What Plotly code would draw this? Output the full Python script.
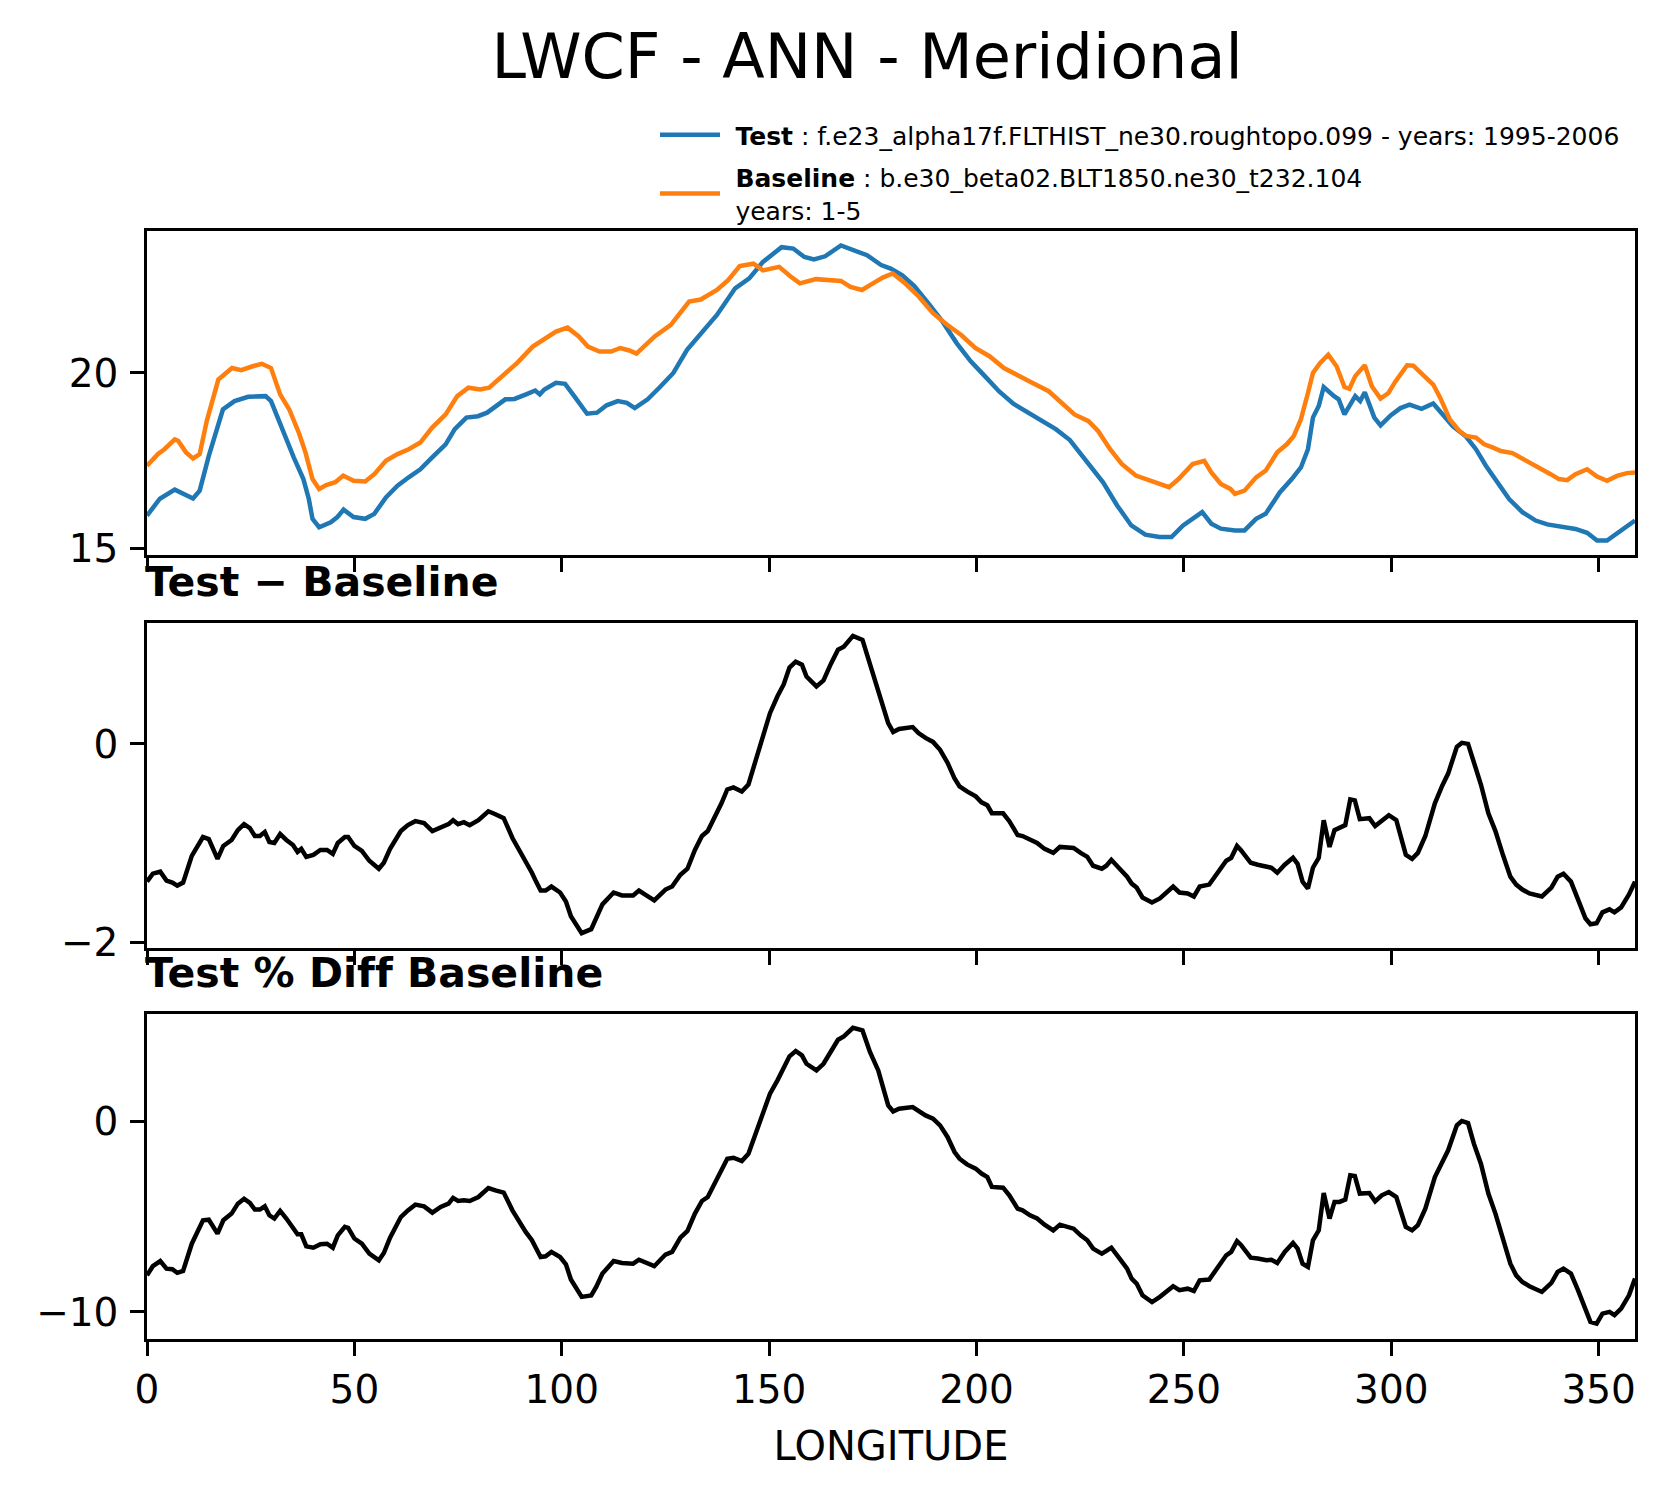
import plotly.graph_objects as go
from plotly.subplots import make_subplots

# Test and Baseline (top panel)
test_lon = [0, 3.1, 6.7, 10.0, 11.1, 12.7, 14.9, 18.3, 21.1, 24.4, 28.6, 29.9, 31.6, 33.2, 35.4, 37.7, 39.0, 39.9,
            41.5, 44.3, 45.9, 47.4, 49.8, 52.6, 54.8, 57.6, 60.4, 63.1, 65.9, 68.7, 72.0, 74.2, 77.0, 79.8, 82.0,
            86.4, 88.6, 91.4, 93.6, 94.7, 95.8, 98.6, 100.8, 103.0, 106.1, 108.5, 110.8, 113.5, 115.7, 117.6, 120.7,
            123.5, 126.9, 130.2, 133.0, 137.4, 141.8, 145.2, 148.5, 153.0, 155.8, 158.5, 160.8, 163.5, 167.3, 170.7,
            173.6, 177.0, 179.3, 182.1, 185.0, 188.4, 191.8, 195.2, 198.6, 202.0, 205.4, 208.8, 212.3, 215.7, 219.1,
            222.5, 224.8, 227.6, 230.5, 233.9, 237.3, 240.7, 244.1, 247.0, 249.8, 254.4, 256.6, 258.9, 262.3, 264.6,
            267.4, 269.7, 273.1, 276.0, 278.2, 279.9, 281.1, 282.5, 283.7, 286.2, 287.3, 288.7, 290.2, 291.3, 292.5,
            293.6, 295.9, 297.4, 299.9, 302.2, 304.4, 307.3, 310.1, 312.0, 314.8, 318.0, 320.4, 322.8, 325.2, 328.4,
            331.6, 334.8, 337.6, 340.8, 344.4, 347.2, 349.6, 352.0, 354.8, 358.0, 358.75]
test_val = [15.94, 16.42, 16.68, 16.48, 16.43, 16.65, 17.64, 18.96, 19.2, 19.32, 19.34, 19.2, 18.68, 18.21, 17.59,
            16.98, 16.42, 15.85, 15.61, 15.75, 15.9, 16.11, 15.9, 15.85, 15.99, 16.46, 16.79, 17.03, 17.26, 17.59,
            17.97, 18.4, 18.73, 18.77, 18.87, 19.25, 19.26, 19.39, 19.5, 19.39, 19.53, 19.72, 19.69, 19.34, 18.84,
            18.87, 19.08, 19.2, 19.15, 19.0, 19.25, 19.58, 20.0, 20.66, 21.04, 21.65, 22.41, 22.69, 23.16, 23.58,
            23.54, 23.3, 23.23, 23.32, 23.63, 23.49, 23.35, 23.07, 22.97, 22.78, 22.47, 21.98, 21.46, 20.85, 20.33,
            19.91, 19.48, 19.13, 18.87, 18.65, 18.4, 18.09, 17.74, 17.36, 16.89, 16.23, 15.66, 15.4, 15.33, 15.33,
            15.66, 16.04, 15.71, 15.57, 15.52, 15.52, 15.85, 15.99, 16.6, 16.98, 17.31, 17.83, 18.73, 19.06, 19.6,
            19.34, 19.25, 18.82, 19.1, 19.34, 19.2, 19.45, 18.73, 18.51, 18.8, 19.0, 19.1, 18.98, 19.13, 18.87, 18.49,
            18.19, 17.83, 17.36, 16.93, 16.41, 16.04, 15.8, 15.69, 15.63, 15.56, 15.45, 15.23, 15.23, 15.47, 15.73,
            15.8]

base_lon = [0, 2.6, 4.2, 6.7, 7.5, 9.4, 11.1, 12.7, 14.4, 17.2, 20.5, 22.7, 25.5, 27.7, 29.9, 32.1, 34.3, 36.6,
            38.2, 39.9, 41.5, 43.2, 45.4, 47.3, 49.8, 52.6, 54.8, 57.6, 60.4, 63.1, 65.9, 68.7, 72.0, 74.8, 77.5,
            80.3, 82.5, 86.4, 89.2, 93.0, 96.4, 98.6, 101.4, 104.1, 106.3, 109.1, 111.9, 114.1, 116.3, 118.0, 122.4,
            126.3, 130.7, 133.5, 137.4, 140.1, 142.9, 146.2, 148.5, 152.4, 155.1, 157.4, 161.3, 164.5, 167.3, 169.6,
            172.4, 174.7, 177.5, 179.8, 182.6, 186.1, 189.5, 192.9, 196.3, 199.7, 203.2, 206.6, 210.0, 213.4, 217.4,
            220.2, 223.6, 227.0, 229.3, 232.2, 235.0, 238.4, 241.8, 246.4, 248.7, 252.1, 254.9, 256.6, 258.9, 261.2,
            262.3, 264.6, 267.4, 269.7, 272.5, 274.8, 276.5, 278.2, 279.9, 281.1, 282.8, 284.8, 286.8, 288.7, 289.9,
            291.3, 293.6, 295.3, 297.4, 299.3, 301.0, 303.8, 305.3, 307.8, 310.1, 311.8, 314.1, 316.4, 318.0, 320.4,
            322.4, 324.4, 326.4, 329.2, 331.6, 334.0, 336.4, 338.4, 340.4, 342.4, 344.4, 347.2, 349.6, 352.0, 354.4,
            356.8, 358.75]
base_val = [17.36, 17.69, 17.83, 18.11, 18.07, 17.74, 17.57, 17.69, 18.63, 19.81, 20.14, 20.08, 20.19, 20.26, 20.14,
            19.39, 18.96, 18.3, 17.74, 16.98, 16.7, 16.81, 16.89, 17.08, 16.93, 16.91, 17.12, 17.5, 17.69, 17.83,
            18.02, 18.44, 18.82, 19.34, 19.58, 19.53, 19.58, 20.0, 20.28, 20.75, 20.99, 21.18, 21.29, 21.04, 20.75,
            20.61, 20.61, 20.71, 20.64, 20.55, 21.04, 21.37, 22.03, 22.09, 22.36, 22.64, 23.04, 23.11, 22.92, 23.02,
            22.75, 22.55, 22.67, 22.64, 22.62, 22.45, 22.36, 22.53, 22.72, 22.83, 22.57, 22.17, 21.7, 21.37, 21.08,
            20.71, 20.47, 20.14, 19.92, 19.72, 19.48, 19.2, 18.82, 18.63, 18.35, 17.83, 17.41, 17.08, 16.93, 16.75,
            16.98, 17.41, 17.5, 17.17, 16.84, 16.7, 16.56, 16.65, 17.03, 17.22, 17.74, 17.97, 18.21, 18.68, 19.43,
            20.0, 20.28, 20.52, 20.19, 19.6, 19.55, 19.91, 20.22, 19.62, 19.27, 19.43, 19.76, 20.22, 20.21, 19.91,
            19.67, 19.29, 18.68, 18.35, 18.21, 18.16, 17.97, 17.88, 17.78, 17.72, 17.57, 17.4, 17.28, 17.12, 16.98,
            16.95, 17.12, 17.26, 17.05, 16.93, 17.07, 17.15, 17.17]

# Test - Baseline and percent difference (same longitudes)
diff_lon = [0, 1.4, 3.2, 4.7, 6.1, 7.3, 8.7, 10.8, 13.5, 14.9, 17.0, 18.4, 20.4, 21.9, 23.4, 24.8, 26.0, 27.2, 28.4,
            29.5, 30.7, 32.1, 33.6, 35.2, 36.3, 37.2, 38.4, 40.1, 41.8, 43.4, 44.8, 46.0, 47.7, 48.5, 50.0, 51.8,
            53.6, 55.9, 57.1, 58.6, 61.2, 62.9, 64.7, 66.8, 68.8, 70.8, 72.7, 73.8, 75.0, 76.4, 77.8, 79.9, 82.3,
            84.0, 86.0, 88.1, 89.7, 91.3, 92.8, 93.8, 94.9, 96.1, 97.5, 99.6, 101.0, 102.2, 104.8, 107.1, 108.3,
            109.8, 112.5, 114.5, 117.2, 118.6, 120.4, 122.3, 125.0, 126.6, 128.6, 130.3, 132.1, 133.8, 135.2, 137.4,
            138.5, 139.9, 141.4, 143.4, 145.0, 147.3, 149.1, 150.2, 152.0, 153.5, 154.9, 156.4, 157.9, 159.0, 161.4,
            163.1, 164.9, 166.6, 168.0, 170.2, 172.5, 174.3, 176.3, 177.8, 178.7, 179.9, 181.3, 184.6, 186.0, 187.7,
            189.5, 191.2, 193.0, 194.7, 195.9, 197.7, 199.8, 201.2, 202.6, 203.7, 206.4, 207.9, 209.9, 211.1, 212.9,
            214.6, 216.4, 218.5, 220.1, 221.6, 223.4, 225.1, 226.7, 228.1, 230.2, 231.3, 232.5, 234.5, 236.3, 237.4,
            238.6, 240.0, 242.3, 244.2, 245.8, 247.4, 248.9, 250.9, 252.4, 253.8, 256.1, 257.9, 260.2, 261.4, 262.8,
            263.7, 266.1, 267.8, 269.9, 271.1, 272.5, 274.3, 276.3, 277.4, 278.6, 279.9, 281.1, 282.5, 283.7, 285.1,
            286.3, 287.5, 288.9, 290.1, 291.2, 292.4, 294.7, 296.1, 297.7, 299.4, 301.2, 303.5, 305.0, 306.4, 308.2,
            310.5, 312.3, 313.7, 315.8, 317.0, 318.5, 319.9, 321.6, 323.4, 325.1, 326.9, 328.7, 330.1, 331.6, 333.3,
            336.3, 338.6, 340.1, 341.5, 343.3, 345.0, 346.8, 348.0, 349.5, 350.9, 352.6, 353.8, 355.4, 357.3, 358.75]
diff_val = [-1.39, -1.31, -1.29, -1.38, -1.40, -1.43, -1.40, -1.13, -0.94, -0.96,
            -1.16, -1.03, -0.97, -0.87, -0.81, -0.85, -0.93, -0.93, -0.89, -0.99,
            -1.0, -0.91, -0.97, -1.02, -1.09, -1.06, -1.14, -1.12, -1.07, -1.07,
            -1.11, -1.0, -0.94, -0.94, -1.03, -1.08, -1.18, -1.26, -1.2, -1.06,
            -0.88, -0.82, -0.78, -0.80, -0.88, -0.84, -0.81, -0.77, -0.81, -0.79,
            -0.82, -0.77, -0.68, -0.71, -0.75, -0.95, -1.07, -1.17, -1.30, -1.39,
            -1.48, -1.48, -1.44, -1.50, -1.59, -1.74, -1.91, -1.87, -1.77, -1.62,
            -1.50, -1.53, -1.53, -1.48, -1.53, -1.58, -1.47, -1.44, -1.32, -1.26,
            -1.07, -0.93, -0.88, -0.70, -0.60, -0.46, -0.44, -0.48, -0.41, -0.09,
            0.16, 0.31, 0.48, 0.60, 0.77, 0.83, 0.80, 0.68, 0.58, 0.64,
            0.81, 0.95, 0.98, 1.09, 1.05, 0.81, 0.56, 0.33, 0.21, 0.12,
            0.15, 0.17, 0.11, 0.06, 0.02, -0.06, -0.19, -0.35, -0.43, -0.48,
            -0.53, -0.59, -0.62, -0.70, -0.70, -0.78, -0.92, -0.93, -0.97, -1.0,
            -1.06, -1.10, -1.04, -1.04, -1.05, -1.10, -1.14, -1.23, -1.26, -1.23,
            -1.17, -1.26, -1.34, -1.41, -1.45, -1.55, -1.60, -1.56, -1.50, -1.44,
            -1.50, -1.51, -1.54, -1.44, -1.42, -1.32, -1.18, -1.15, -1.03, -1.07,
            -1.20, -1.22, -1.24, -1.25, -1.30, -1.22, -1.15, -1.21, -1.39, -1.46,
            -1.25, -1.15, -0.77, -1.04, -0.87, -0.85, -0.82, -0.56, -0.57, -0.76,
            -0.75, -0.83, -0.78, -0.72, -0.77, -1.12, -1.16, -1.10, -0.93, -0.60,
            -0.42, -0.30, -0.03, 0.01, 0.0, -0.19, -0.41, -0.70, -0.88, -1.12,
            -1.34, -1.42, -1.47, -1.51, -1.54, -1.45, -1.34, -1.31, -1.39, -1.57,
            -1.76, -1.82, -1.81, -1.70, -1.67, -1.70, -1.65, -1.52, -1.39]
pct_val = [-8.08, -7.6, -7.33, -7.73, -7.76, -7.95, -7.85, -6.42, -5.19, -5.16,
           -5.89, -5.19, -4.84, -4.32, -4.06, -4.28, -4.63, -4.63, -4.46, -4.93,
           -5.1, -4.7, -5.1, -5.54, -5.93, -5.93, -6.56, -6.63, -6.45, -6.42,
           -6.63, -5.98, -5.54, -5.59, -6.15, -6.42, -6.94, -7.29, -6.91, -6.1,
           -5.02, -4.67, -4.37, -4.46, -4.79, -4.49, -4.32, -4.02, -4.18, -4.14,
           -4.18, -3.97, -3.5, -3.62, -3.74, -4.67, -5.28, -5.8, -6.24, -6.68,
           -7.12, -7.08, -6.85, -7.12, -7.5, -8.3, -9.21, -9.13, -8.69, -7.99,
           -7.33, -7.43, -7.47, -7.26, -7.43, -7.6, -6.99, -6.85, -6.1, -5.75,
           -4.84, -4.18, -3.97, -3.01, -2.57, -1.96, -1.91, -2.08, -1.7, -0.38,
           0.75, 1.45, 2.15, 2.76, 3.41, 3.69, 3.46, 3.02, 2.67, 3.02,
           3.72, 4.28, 4.46, 4.91, 4.77, 3.64, 2.67, 1.5, 0.84, 0.52,
           0.66, 0.75, 0.52, 0.31, 0.14, -0.21, -0.82, -1.61, -1.96, -2.26,
           -2.48, -2.74, -2.92, -3.44, -3.48, -3.88, -4.58, -4.67, -4.93, -5.1,
           -5.42, -5.72, -5.42, -5.49, -5.63, -5.98, -6.24, -6.68, -6.94, -6.8,
           -6.63, -7.2, -7.73, -8.25, -8.51, -9.13, -9.48, -9.21, -8.92, -8.65,
           -8.86, -8.78, -8.9, -8.34, -8.3, -7.78, -7.03, -6.85, -6.29, -6.47,
           -7.15, -7.2, -7.29, -7.26, -7.43, -6.85, -6.38, -6.68, -7.47, -7.64,
           -6.24, -5.72, -3.76, -5.1, -4.23, -4.23, -4.11, -2.83, -2.87, -3.79,
           -3.76, -4.2, -3.88, -3.71, -3.97, -5.54, -5.72, -5.45, -4.58, -2.92,
           -2.13, -1.52, -0.21, 0.02, -0.09, -1.17, -2.22, -3.79, -4.84, -6.15,
           -7.47, -8.08, -8.43, -8.65, -8.95, -8.48, -7.9, -7.73, -7.99, -8.86,
           -9.91, -10.52, -10.61, -10.09, -10.0, -10.17, -9.83, -9.13, -8.25]

NB = "\u00a0\u200a"
test_name = NB + "<b>Test</b> : f.e23_alpha17f.FLTHIST_ne30.roughtopo.099 - years: 1995-2006"
base_name = NB + "<b>Baseline</b> : b.e30_beta02.BLT1850.ne30_t232.104<br>" + NB + "years: 1-5"

W, H = 1668, 1496
FONT = "DejaVu Sans"
# page body adds an 8px offset, so the layout is shifted up/left by 8px
L, T = 139, 223

fig = make_subplots(rows=3, cols=1, shared_xaxes=True)

fig.add_trace(go.Scatter(x=test_lon, y=test_val, mode="lines", name=test_name, legendgroup="test",
                         line=dict(color="#1f77b4", width=4.5)), row=1, col=1)
fig.add_trace(go.Scatter(x=base_lon, y=base_val, mode="lines", name=base_name, legendgroup="base",
                         line=dict(color="#ff7f0e", width=4.5)), row=1, col=1)
fig.add_trace(go.Scatter(x=diff_lon, y=diff_val, mode="lines", showlegend=False,
                         line=dict(color="black", width=4.5)), row=2, col=1)
fig.add_trace(go.Scatter(x=diff_lon, y=pct_val, mode="lines", showlegend=False,
                         line=dict(color="black", width=4.5)), row=3, col=1)

axis_style = dict(showline=True, mirror=True, linecolor="black", linewidth=2.5,
                  ticks="outside", ticklen=14, tickwidth=2.5, tickcolor="black",
                  showgrid=False, zeroline=False,
                  tickfont=dict(family=FONT, size=39, color="black"))

fig.update_xaxes(axis_style)
fig.update_yaxes(axis_style, ticklabelstandoff=4)
fig.update_xaxes(range=[0, 358.75], tickvals=[0, 50, 100, 150, 200, 250, 300, 350])
fig.update_xaxes(showticklabels=False, row=1, col=1)
fig.update_xaxes(showticklabels=False, row=2, col=1)
fig.update_xaxes(title=dict(text="LONGITUDE", font=dict(family=FONT, size=40, color="black"), standoff=22),
                 row=3, col=1)

fig.update_yaxes(range=[14.82, 24.04], tickvals=[15, 20], domain=[0.7076, 1.0], row=1, col=1)
fig.update_yaxes(range=[-2.06, 1.22], tickvals=[-2, 0], domain=[0.3529, 0.6462], row=2, col=1)
fig.update_yaxes(range=[-11.42, 5.63], tickvals=[-10, 0], domain=[0.0, 0.2933], row=3, col=1)

# zero-width non-joiner keeps "ff" from becoming a ligature
for txt, ypos in [("<b>Test \u2212 Baseline</b>", 0.6597), ("<b>Test % Dif\u200cf Baseline</b>", 0.3069)]:
    fig.add_annotation(text=txt, x=0, y=ypos, xref="paper", yref="paper", xshift=-4,
                       xanchor="left", yanchor="bottom", showarrow=False,
                       font=dict(family=FONT, size=41, color="black"))

fig.update_layout(
    width=W, height=H,
    margin=dict(l=L, r=W - L - 1488, t=T, b=H - T - 1108),
    paper_bgcolor="white", plot_bgcolor="white",
    font=dict(family=FONT, color="black"),
    title=dict(text="LWCF - ANN - Meridional", x=859 / W, y=1 - 48 / H,
               xref="container", yref="container", xanchor="center", yanchor="middle",
               font=dict(family=FONT, size=62, color="black")),
    legend=dict(x=0.3414, y=1.1074, xanchor="left", yanchor="top", tracegroupgap=7,
                bgcolor="rgba(0,0,0,0)", font=dict(family=FONT, size=25, color="black"),
                itemwidth=60),
    showlegend=True,
)

fig.write_html("out.html")
